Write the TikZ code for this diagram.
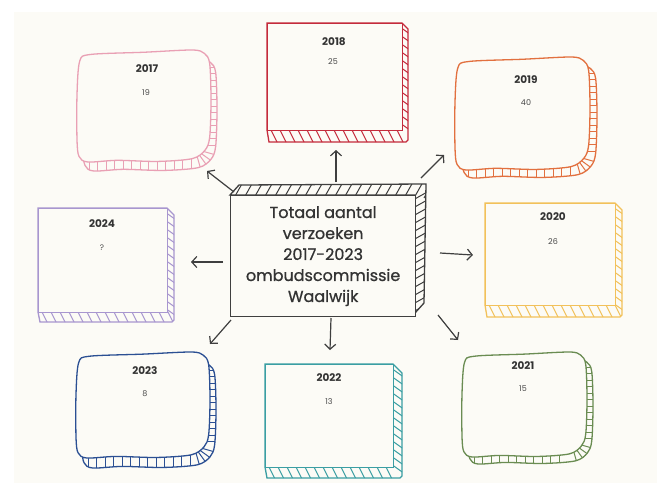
\documentclass[tikz,border=0pt]{standalone}
\usepackage{fontspec}
\setmainfont{Poppins}
\newfontfamily\hubfont[FakeBold=0.9]{Poppins}
\usetikzlibrary{arrows.meta}
\definecolor{bg}{HTML}{FCFBF6}
\definecolor{pinkc}{HTML}{E9A0B4}
\definecolor{redc}{HTML}{C42B3C}
\definecolor{orangec}{HTML}{E2703F}
\definecolor{purplec}{HTML}{A896CF}
\definecolor{yellowc}{HTML}{F2C15A}
\definecolor{bluec}{HTML}{2B4F93}
\definecolor{tealc}{HTML}{3A9EA3}
\definecolor{greenc}{HTML}{6A8C52}
\definecolor{grayc}{HTML}{3F3F3F}
\definecolor{textc}{HTML}{333333}
\definecolor{numc}{HTML}{484848}
\tikzset{
  yearlbl/.style={font=\bfseries\fontsize{10.5pt}{12pt}\selectfont, text=textc, inner sep=0pt},
  numlbl/.style={font=\fontsize{8pt}{9pt}\selectfont, text=numc, inner sep=0pt},
  conn/.style={draw=grayc, line width=1.2pt, -{Straight Barb[length=5pt,width=11pt]}},
  hubtext/.style={font=\hubfont\fontsize{16pt}{21pt}\selectfont, text=textc, align=center},
}
\newcommand{\wobblepath}{plot[smooth cycle, tension=0.5] coordinates {(0.1,0.04) (0.5,0.02) (0.86,0.0) (0.95,0.03) (0.99,0.12) (1.0,0.45) (0.99,0.78) (0.955,0.895) (0.86,0.97) (0.6,0.995) (0.3,0.985) (0.08,1.0) (0.015,0.95) (0.0,0.8) (0.0,0.4) (0.02,0.1)}}
% #1 name #2 colour #3 x1 #4 y1 #5 x2 #6 y2 #7 dx #8 dy
\newcommand{\StraightCube}[8]{%
  \pgfmathsetmacro\cubeW{#5-#3}\pgfmathsetmacro\cubeH{#6-#4}%
  \begin{scope}[shift={(#3,#4)}, color=#2, line width=1.3pt]
    \path[fill=bg] (0,0) -- (\cubeW,0) -- (\cubeW+#7,#7) -- (\cubeW+#7,\cubeH+#8-2) -- (\cubeW+#7-2,\cubeH+#8) -- (2,\cubeH+#8) -- (0,\cubeH) -- cycle;
    \begin{scope}
      \clip (0,0) -- (\cubeW,0) -- (\cubeW+#7,#7) -- (\cubeW+#7,\cubeH+#8-2) -- (\cubeW+#7-2,\cubeH+#8) -- (2,\cubeH+#8) -- (0,\cubeH) -- cycle;
      \foreach \r in {3,12,...,\cubeW} \draw[line width=1pt] (\r,\cubeH-2) -- ++(8,16);
      \foreach \r in {4,12,...,\cubeH} \draw[line width=1pt] (\cubeW-2,\r) -- ++(14,10);
    \end{scope}
    \draw (0,0) -- (\cubeW,0) -- (\cubeW+#7,#7) -- (\cubeW+#7,\cubeH+#8-2) -- (\cubeW+#7-2,\cubeH+#8) -- (2,\cubeH+#8) -- (0,\cubeH) -- cycle;
    \node[draw=#2, fill=bg, line width=1.3pt, minimum width=\cubeW pt, minimum height=\cubeH pt, inner sep=0pt, anchor=north west] (#1) at (0,0) {};
  \end{scope}}
\newcommand{\RoundCube}[8]{%
  \pgfmathsetmacro\cubeW{#5-#3}\pgfmathsetmacro\cubeH{#6-#4}%
  \pgfmathsetmacro\ylim{\cubeH-24}\pgfmathsetmacro\xlim{\cubeW-26}%
  \begin{scope}[shift={(#3,#4)}, color=#2, line width=1.3pt]
    \begin{scope}[x=\cubeW pt, y=-\cubeH pt]
      \begin{scope}[xshift=#7pt, yshift=-#8pt]
        \path[fill=bg] \wobblepath;
        \begin{scope}
          \clip \wobblepath;
          \begin{scope}[x=1pt, y=-1pt]
            \foreach \r in {8,14.5,...,\ylim} \draw[line width=1pt] (\cubeW-40,\r) -- (\cubeW+5,\r);
            \foreach \r in {6,14.5,...,\xlim} \draw[line width=1pt] (\r,\cubeH-40) -- (\r,\cubeH+5);
            \draw[line width=1pt] (\cubeW-22,\cubeH-22) -- (\cubeW+20,\cubeH-10);
            \draw[line width=1pt] (\cubeW-22,\cubeH-22) -- (\cubeW+14,\cubeH+4);
            \draw[line width=1pt] (\cubeW-22,\cubeH-22) -- (\cubeW+4,\cubeH+14);
            \draw[line width=1pt] (\cubeW-22,\cubeH-22) -- (\cubeW-10,\cubeH+20);
          \end{scope}
        \end{scope}
        \draw \wobblepath;
      \end{scope}
      \draw[fill=bg] \wobblepath;
      \node[inner sep=0pt, minimum size=2pt] (#1) at (0.5,0.5) {};
    \end{scope}
  \end{scope}}
\begin{document}
\begin{tikzpicture}[x=1pt,y=-1pt]
\useasboundingbox[fill=white] (0,0) rectangle (657,483);
\fill[bg] (14,12) rectangle (657,483);

% boxes
\RoundCube{b2017}{pinkc}{77}{50}{211}{162}{6}{9}
\StraightCube{b2018}{redc}{267}{23}{402}{130}{6}{12}
\RoundCube{b2019}{orangec}{455}{57}{590}{170}{7}{8}
\StraightCube{b2024}{purplec}{38}{208}{167}{312}{7}{10}
\StraightCube{b2020}{yellowc}{485}{203}{615}{305}{7}{12}
\RoundCube{b2023}{bluec}{76}{352}{210}{458}{6}{10}
\StraightCube{b2022}{tealc}{265}{364}{393}{467}{9}{11}
\RoundCube{b2021}{greenc}{462}{352}{587}{457}{6}{7}

% central block
\begin{scope}[color=grayc, line width=1.3pt]
  \path[fill=bg] (230,195) -- (239,185) -- (426,184) -- (424,303) -- (415,313) -- (415,195) -- cycle;
  \begin{scope}
    \clip (230,195) -- (239,185) -- (426,184) -- (424,303) -- (415,313) -- (415,195) -- cycle;
    \foreach \r in {234,244,...,424} \draw[line width=1pt] (\r,198) -- ++(9,-16);
    \foreach \r in {200,208,...,320} \draw[line width=1pt] (413,\r) -- ++(16,-9);
  \end{scope}
  \draw (230,195) -- (239,185) -- (426,184) -- (424,303) -- (415,313) -- (415,195) -- cycle;
  \node[draw=grayc, fill=bg, line width=1.3pt, minimum width=185pt, minimum height=121pt, inner sep=0pt, anchor=north west, hubtext] (hub) at (230,195) {Totaal aantal\\verzoeken\\2017-2023\\ombudscommissie\\Waalwijk};
\end{scope}

% labels
\node[yearlbl] (y2017) at (147,69) {2017};
\node[numlbl] (n2017) at (146,93) {19};
\node[yearlbl] (y2018) at (334,42) {2018};
\node[numlbl] (n2018) at (333,62) {25};
\node[yearlbl] (y2019) at (526,80) {2019};
\node[numlbl] (n2019) at (526,103) {40};
\node[yearlbl] (y2024) at (102,224) {2024};
\node[numlbl] (n2024) at (102,248) {?};
\node[yearlbl] (y2020) at (553,217) {2020};
\node[numlbl] (n2020) at (553,242) {26};
\node[yearlbl] (y2023) at (145,371) {2023};
\node[numlbl] (n2023) at (145,394) {8};
\node[yearlbl] (y2022) at (329,378) {2022};
\node[numlbl] (n2022) at (329,402) {13};
\node[yearlbl] (y2021) at (523,366) {2021};
\node[numlbl] (n2021) at (523,389) {15};

% connectors
\coordinate (aUs) at (336,182); \coordinate (aUe) at (336,150);
\coordinate (aURs) at (421,178); \coordinate (aURe) at (444,155);
\coordinate (aULs) at (234,192); \coordinate (aULe) at (207,171);
\coordinate (aLs) at (223,262); \coordinate (aLe) at (191,262);
\coordinate (aRs) at (440,253); \coordinate (aRe) at (473,255);
\coordinate (aDLs) at (231,320); \coordinate (aDLe) at (210,344);
\coordinate (aDs) at (331,318); \coordinate (aDe) at (330,350);
\coordinate (aDRs) at (438,315); \coordinate (aDRe) at (458,340);
\draw[conn] (aUs) -- (aUe);
\draw[conn] (aURs) -- (aURe);
\draw[conn] (aULs) -- (aULe);
\draw[conn] (aLs) -- (aLe);
\draw[conn] (aRs) -- (aRe);
\draw[conn] (aDLs) -- (aDLe);
\draw[conn] (aDs) -- (aDe);
\draw[conn] (aDRs) -- (aDRe);
\end{tikzpicture}
\end{document}
